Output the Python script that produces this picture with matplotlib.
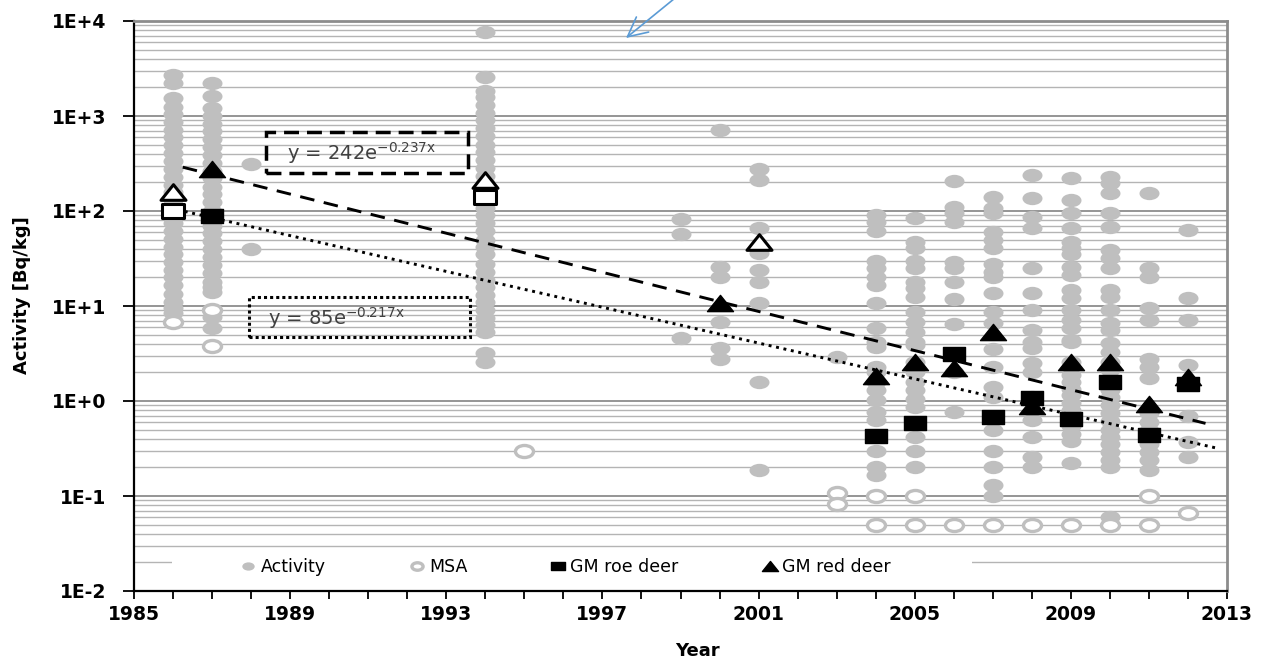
import numpy as np
import matplotlib
matplotlib.use('Agg')
import matplotlib.pyplot as plt
from matplotlib.path import Path
from matplotlib.transforms import Affine2D
from matplotlib.patches import Rectangle
from matplotlib.ticker import LogLocator, FixedLocator, NullFormatter

# measured activity per sampling year [Bq/kg]
act_1986 = [2700, 2200, 1540, 1250, 1050, 870, 720, 600, 500, 410, 340, 280, 230, 190, 160,
            130, 110, 90, 75, 62, 51, 42, 35, 29, 24, 20, 16.5, 13.5, 11, 9.5, 8.5]
act_1987 = [2200, 1620, 1200, 1000, 830, 690, 570, 470, 390, 320, 265, 220, 180, 150, 125,
            100, 85, 70, 58, 48, 40, 33, 27, 22, 18, 16, 14, 7.7, 5.9]
act_1988 = [310, 40]
act_1994 = [7600, 2600, 1830, 1585, 1300, 1080, 900, 740, 610, 500, 420, 345, 285, 235, 195,
            160, 130, 108, 90, 74, 61, 50, 42, 35, 28, 23, 19, 16, 13, 11, 9, 7.5, 6.3, 5.3,
            3.2, 2.6]
act_1999 = [83, 57, 4.6]
act_2000 = [705, 26, 20, 6.8, 3.6, 2.8]
act_2001 = [280, 213, 66, 36, 24, 17.7, 10.7, 1.6, 0.19]
act_2003 = [2.9]
act_2004 = [91, 76, 62, 30, 25, 20, 16.5, 10.7, 5.9, 4.2, 3.7, 2.3, 2.0, 1.6, 1.3, 1.02,
            0.77, 0.63, 0.3, 0.2, 0.166]
act_2005 = [85, 47, 41, 30, 25, 17.8, 15.5, 12.3, 8.6, 6.8, 5.3, 4.2, 3.9, 2.6, 2.0, 1.6,
            1.3, 1.05, 0.86, 0.42, 0.3, 0.2]
act_2006 = [205, 110, 95, 76, 29, 25, 17.8, 11.8, 6.5, 2.0, 0.77]
act_2007 = [141, 107, 95, 60, 49, 41, 28, 23, 20, 13.8, 8.6, 6.7, 3.5, 2.3, 1.4, 1.1, 0.66,
            0.5, 0.3, 0.2, 0.13, 0.1]
act_2008 = [240, 137, 87, 66, 25, 13.8, 9.1, 5.6, 4.2, 3.6, 2.5, 2.0, 1.1, 0.63, 0.42, 0.26,
            0.2]
act_2009 = [220, 130, 95, 66, 47, 41, 35, 26, 21, 14.7, 12, 9.1, 7.1, 5.9, 4.4, 4.2, 2.6,
            1.9, 1.6, 1.35, 1.15, 0.95, 0.8, 0.65, 0.55, 0.45, 0.38, 0.22]
act_2010 = [230, 195, 155, 95, 68, 39, 32, 25, 14.7, 12.3, 9.1, 6.7, 5.6, 4.1, 3.3, 2.6, 2.1,
            1.6, 1.3, 1.1, 0.9, 0.75, 0.62, 0.5, 0.42, 0.35, 0.29, 0.24, 0.2, 0.06]
act_2011 = [155, 25, 20, 9.5, 7.1, 2.8, 2.3, 1.76, 0.75, 0.6, 0.5, 0.42, 0.35, 0.29, 0.24,
            0.19]
act_2012 = [63, 12, 7.2, 2.4, 1.6, 0.69, 0.37, 0.26]

act_years = [1986, 1987, 1988, 1994, 1999, 2000, 2001, 2003, 2004, 2005, 2006, 2007, 2008,
             2009, 2010, 2011, 2012]
act_lists = [act_1986, act_1987, act_1988, act_1994, act_1999, act_2000, act_2001, act_2003,
             act_2004, act_2005, act_2006, act_2007, act_2008, act_2009, act_2010, act_2011,
             act_2012]

# minimum significant activity
msa_years = [1986, 1987, 1987, 1995, 2003, 2003, 2004, 2004, 2005, 2005, 2006, 2007, 2008,
             2009, 2010, 2011, 2011, 2012]
msa_vals = [6.8, 9.0, 3.8, 0.30, 0.107, 0.083, 0.10, 0.05, 0.10, 0.05, 0.05, 0.05, 0.05,
            0.05, 0.05, 0.10, 0.05, 0.066]

# geometric means
roe_years = [1987, 2004, 2005, 2006, 2007, 2008, 2009, 2010, 2011, 2012]
roe_gm = [89, 0.43, 0.59, 3.1, 0.68, 1.07, 0.65, 1.6, 0.44, 1.5]
red_years = [1987, 2000, 2004, 2005, 2006, 2007, 2008, 2009, 2010, 2011, 2012]
red_gm = [280, 10.7, 1.83, 2.6, 2.2, 5.3, 0.88, 2.6, 2.6, 0.93, 1.8]
roe_open_years = [1986, 1994]
roe_open_gm = [100, 141]
red_open_years = [1986, 1994, 2001]
red_open_gm = [160, 213, 47]

# exponential trendlines y = a*exp(-b*x), x counted from 1987
red_fit = (242, 0.237)
roe_fit = (85, 0.217)
fit_x0 = 1987
red_span = (1986.25, 2012.45)
roe_span = (1986.3, 2012.75)

y_ticks = [1e-2, 1e-1, 1e0, 1e1, 1e2, 1e3, 1e4]
y_ticklabels = ['1E-2', '1E-1', '1E+0', '1E+1', '1E+2', '1E+3', '1E+4']
x_ticks = [1985, 1989, 1993, 1997, 2001, 2005, 2009, 2013]

W, H = 1263, 661
GREY = '#bfbfbf'

# the original picture is stretched sideways, so markers are wider than tall
ell = Path.unit_circle().transformed(Affine2D().scale(1.5, 1.0))
rect = Path.unit_rectangle().transformed(Affine2D().translate(-0.5, -0.5).scale(1.57, 1.0))
tri = Path([(0, 1), (-1.6, -1), (1.6, -1), (0, 1)],
           [Path.MOVETO, Path.LINETO, Path.LINETO, Path.CLOSEPOLY])

fig = plt.figure(figsize=(W / 100, H / 100), dpi=100)
ax = fig.add_axes([134 / W, 1 - 591 / H, (1227 - 134) / W, (591 - 21) / H])
ax.set_yscale('log')

ax_x, ax_y = [], []
for yr, vals in zip(act_years, act_lists):
    ax_x += [yr] * len(vals)
    ax_y += vals
ax.plot(ax_x, ax_y, ls='none', marker=ell, ms=14.4, mfc=GREY, mec=GREY, mew=0,
        zorder=3, label='Activity')
ax.plot(msa_years, msa_vals, ls='none', marker=ell, ms=13, mfc='white', mec=GREY,
        mew=2.4, zorder=3, label='MSA')

for (a, b), span, ls in [(red_fit, red_span, (0, (5, 3.3))), (roe_fit, roe_span, (0, (1, 1.6)))]:
    xx = np.linspace(span[0], span[1], 200)
    ax.plot(xx, a * np.exp(-b * (xx - fit_x0)), color='black', lw=2.1, ls=ls, zorder=4)

ax.plot(roe_open_years, roe_open_gm, ls='none', marker=rect, ms=15.8, mfc='white',
        mec='black', mew=2.2, zorder=5)
ax.plot(red_open_years, red_open_gm, ls='none', marker=tri, ms=18, mfc='white',
        mec='black', mew=2.2, zorder=5)
ax.plot(roe_years, roe_gm, ls='none', marker=rect, ms=15.8, mfc='black', mec='black',
        zorder=6, label='GM roe deer')
ax.plot(red_years, red_gm, ls='none', marker=tri, ms=18.7, mfc='black', mec='black',
        zorder=6, label='GM red deer')

ax.set_xlim(1985, 2013)
ax.set_ylim(1e-2, 1e4)
ax.set_xticks(x_ticks)
ax.set_xticks(range(1985, 2014), minor=True)
ax.yaxis.set_major_locator(FixedLocator(y_ticks))
ax.set_yticklabels(y_ticklabels)
ax.yaxis.set_minor_locator(LogLocator(base=10, subs=range(2, 10), numticks=20))
ax.yaxis.set_minor_formatter(NullFormatter())
ax.tick_params(axis='y', which='major', length=8, width=1.3, pad=12, labelsize=13.5)
ax.tick_params(axis='y', which='minor', length=0)
ax.tick_params(axis='x', which='both', length=6, width=1.3, pad=4, labelsize=13.5)
for lab in ax.get_xticklabels() + ax.get_yticklabels():
    lab.set_fontweight('bold')

ax.set_axisbelow(True)
ax.yaxis.grid(True, which='major', color='#8c8c8c', lw=1.3)
ax.yaxis.grid(True, which='minor', color='#b4b4b4', lw=1.0)
for s in ['left', 'bottom']:
    ax.spines[s].set_linewidth(1.6)
    ax.spines[s].set_color('black')
for s in ['top', 'right']:
    ax.spines[s].set_linewidth(2)
    ax.spines[s].set_color('#8c8c8c')

ax.set_ylabel('Activity [Bq/kg]', fontsize=13, fontweight='bold')
ax.yaxis.set_label_coords((31 - 134) / (1227 - 134), (591 - 295) / 570)
ax.set_xlabel('Year', fontsize=13, fontweight='bold')
ax.xaxis.set_label_coords((697 - 134) / (1227 - 134), (591 - 642) / 570)

# white area behind the legend hides the lowest grid lines
ax.add_patch(Rectangle(((172 - 134) / 1093, 0.003), (972 - 172) / 1093, (591 - 554) / 570,
                       transform=ax.transAxes, facecolor='white', edgecolor='none', zorder=2))
leg = ax.legend(loc='center', bbox_to_anchor=((566 - 134) / 1093, (591 - 567) / 570), ncol=4,
                frameon=False, fontsize=12.5, markerscale=0.62, handlelength=0.8,
                handletextpad=0.3, columnspacing=4.85)
leg.set_zorder(7)

# trendline equation boxes
def px_box(x0, y0, x1, y1, ls, lw):
    fig.patches.append(Rectangle((x0 / W, 1 - y1 / H), (x1 - x0) / W, (y1 - y0) / H,
                                 transform=fig.transFigure, fill=False, edgecolor='black',
                                 lw=lw, ls=ls, zorder=8))

px_box(266, 132, 468, 173, (0, (4.3, 2.3)), 2.5)
px_box(249, 297, 470, 337, (0, (1, 1)), 2.2)
fig.text(287 / W, 1 - 153 / H, r'y = 242e$^{\mathrm{-0.237x}}$', fontsize=14, color='#404040',
         va='center', ha='left')
fig.text(268 / W, 1 - 318 / H, r'y = 85e$^{\mathrm{-0.217x}}$', fontsize=14, color='#404040',
         va='center', ha='left')

# blue arrow coming in from above
ax.annotate('', xy=(626, H - 38), xycoords='figure pixels', xytext=(680, H + 6),
            textcoords='figure pixels', annotation_clip=False,
            arrowprops=dict(arrowstyle='->,head_length=0.7,head_width=0.35', color='#5b9bd5',
                            lw=1.2, shrinkA=0, shrinkB=0, mutation_scale=20))

fig.savefig('out.png', dpi=100)
